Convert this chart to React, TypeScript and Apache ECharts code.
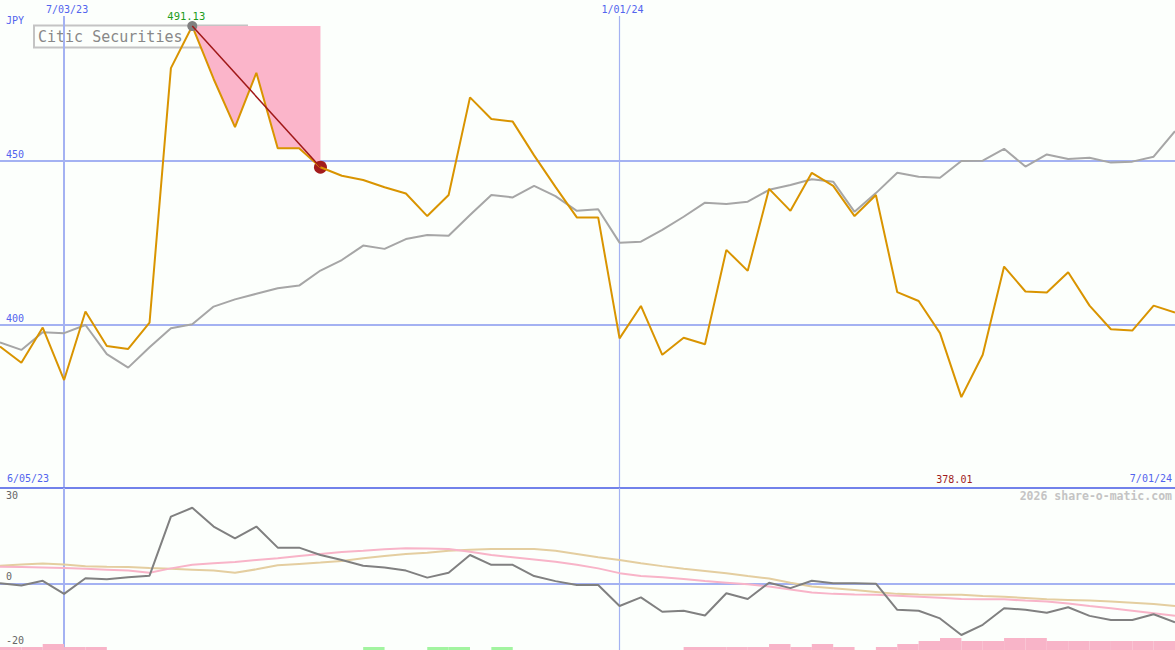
import React, { useEffect, useRef } from "react";
import * as echarts from "echarts";

// weekly points, index 0 = left edge (x axis runs 0..55 weeks)
const priceCitic = [393.4, 388.5, 399.2, 383.2, 404.1, 393.6, 392.7, 400.7, 478.3, 491.13, 475.0, 460.3, 476.9, 453.9, 453.9, 448.1, 445.5, 444.2, 442.0, 440.1, 433.2, 439.6, 469.4, 462.8, 462.0, 451.7, 442.1, 432.8, 432.8, 395.9, 405.8, 390.9, 396.1, 394.1, 422.9, 416.5, 441.5, 434.8, 446.4, 442.4, 433.2, 439.6, 410.0, 407.3, 397.5, 378.01, 390.9, 417.8, 410.2, 409.9, 416.1, 405.9, 398.7, 398.3, 405.9, 403.8];
const priceIndex = [394.7, 392.4, 397.8, 397.5, 400.0, 391.1, 387.0, 393.2, 399.0, 400.2, 405.6, 407.8, 409.5, 411.2, 412.0, 416.6, 419.8, 424.2, 423.2, 426.2, 427.4, 427.2, 433.5, 439.6, 438.9, 442.4, 439.3, 434.8, 435.3, 425.1, 425.4, 429.0, 433.0, 437.3, 436.9, 437.6, 441.2, 442.7, 444.4, 443.7, 434.5, 440.2, 446.4, 445.2, 444.9, 450.0, 450.1, 453.7, 448.3, 452.0, 450.6, 451.0, 449.5, 449.8, 451.3, 459.1];
const oscillator = [0.1, -0.6, 0.9, -3.2, 1.7, 1.4, 2.0, 2.5, 21.0, 23.8, 17.9, 14.2, 17.9, 11.3, 11.3, 9.0, 7.4, 5.6, 5.1, 4.1, 1.9, 3.4, 9.0, 5.9, 5.9, 2.4, 0.8, -0.4, -0.4, -7.0, -4.3, -8.8, -8.5, -10.0, -3.0, -4.8, 0.3, -1.4, 0.9, 0.1, 0.1, 0.0, -8.2, -8.5, -10.9, -16.1, -12.9, -7.7, -8.2, -9.1, -7.4, -10.1, -11.4, -11.4, -9.6, -12.1];
const oscPinkAvg = [5.3, 5.2, 5.1, 4.9, 4.7, 4.4, 4.1, 3.4, 4.8, 5.9, 6.4, 6.8, 7.4, 8.0, 8.7, 9.3, 9.9, 10.3, 10.8, 11.1, 11.0, 10.9, 10.0, 9.0, 8.3, 7.6, 6.9, 5.9, 4.8, 3.3, 2.4, 2.0, 1.5, 0.8, 0.3, -0.2, -0.9, -1.8, -2.8, -3.2, -3.4, -3.5, -3.8, -4.1, -4.4, -4.8, -4.9, -4.9, -5.3, -5.6, -6.2, -7.0, -7.7, -8.5, -9.3, -10.1];
const oscTanAvg = [5.6, 6.0, 6.3, 6.0, 5.5, 5.3, 5.2, 4.9, 4.7, 4.4, 4.1, 3.4, 4.5, 5.8, 6.2, 6.6, 7.1, 8.0, 8.7, 9.3, 9.7, 10.3, 10.6, 10.9, 10.9, 10.9, 10.3, 9.3, 8.3, 7.4, 6.4, 5.5, 4.7, 4.0, 3.3, 2.4, 1.6, 0.3, -0.9, -1.4, -2.0, -2.6, -3.2, -3.4, -3.5, -3.5, -3.9, -4.1, -4.5, -4.9, -5.1, -5.3, -5.6, -6.0, -6.4, -7.0];
// signed histogram levels at the bottom (negative = pink, positive = green)
const histLevels = [-1, -1, -2, -1, -1, 0, 0, 0, 0, 0, 0, 0, 0, 0, 0, 0, 0, 1, 0, 0, 1, 1, 0, 1, 0, 0, 0, 0, 0, 0, 0, 0, -1, -1, -1, -1, -2, -1, -2, -1, 0, -1, -2, -3, -4, -3, -3, -4, -4, -3, -3, -3, -3, -3, -3, 0];

const dateMarks = [
  { week: 3, label: "7/03/23", width: 2 },
  { week: 29, label: "1/01/24", width: 1.2 },
];
const startLabel = "6/05/23";
const endLabel = "7/01/24";
const priceGridValues = [400, 450];
const oscLabels = [30, 0, -20];
const peakIndex = 9;
const troughIndex = 15;
const minIndex = 45;
const title = "Citic Securities";
const currency = "JPY";
const credit = "2026 share-o-matic.com";

const X_MIN = 0;
const X_MAX = 55;
const MAIN_MIN = 350.6;
const MAIN_MAX = 494.2;
const OSC_MIN = -20.8;
const OSC_MAX = 30;

const MONO = '"DejaVu Sans Mono", monospace';
const BLUE_TEXT = "#5264ee";
const GRID_BLUE = "#a4b2f2";
const SEP_BLUE = "#7282ea";
const BG = "#fcfffc";
const CLEAR = "rgba(0,0,0,0)";

export default function App() {
  const ref = useRef<HTMLDivElement>(null);
  useEffect(() => {
    if (!ref.current) return;
    const chart = echarts.init(ref.current, undefined, { renderer: "svg" });
    const pairs = (arr: number[]) => arr.map((v, i) => [i, v]);
    const peak = priceCitic[peakIndex];
    const ddIdx = priceCitic.map((_, i) => i).filter((i) => i >= peakIndex && i <= troughIndex);

    const vLines = (withLabel: boolean) =>
      dateMarks.map((d) => ({
        xAxis: d.week,
        lineStyle: { color: GRID_BLUE, width: d.width, type: "solid" },
        label: withLabel
          ? { show: true, position: "end", formatter: d.label, color: BLUE_TEXT, fontSize: 10, fontFamily: MONO, distance: 2, offset: [3, 0] }
          : { show: false },
      }));

    const option: any = {
      animation: false,
      backgroundColor: BG,
      grid: [
        { left: 0, right: 0, top: 16, height: 471 },
        { left: 0, right: 0, top: 488, height: 162 },
      ],
      xAxis: [
        { type: "value", gridIndex: 0, min: X_MIN, max: X_MAX, show: false },
        { type: "value", gridIndex: 1, min: X_MIN, max: X_MAX, show: false },
      ],
      yAxis: [
        { type: "value", gridIndex: 0, min: MAIN_MIN, max: MAIN_MAX, show: false },
        { type: "value", gridIndex: 1, min: OSC_MIN, max: OSC_MAX, show: false },
        { type: "value", gridIndex: 1, min: 0, max: 54, show: false },
      ],
      graphic: [
        { type: "rect", z: 0, shape: { x: 34, y: 25.5, width: 213, height: 22 }, style: { fill: BG, stroke: "#c4c4c4", lineWidth: 2 } },
        { type: "text", z: 0, x: 38, y: 36.5, style: { text: title, fill: "#888888", font: `15px ${MONO}`, verticalAlign: "middle" } },
        { type: "text", z: 0, x: 6, y: 20.5, style: { text: currency, fill: BLUE_TEXT, font: `10px ${MONO}`, verticalAlign: "middle" } },
        { type: "text", z: 0, x: 7, y: 478.5, style: { text: startLabel, fill: BLUE_TEXT, font: `10px ${MONO}`, verticalAlign: "middle" } },
        { type: "text", z: 0, x: 1172, y: 478.5, style: { text: endLabel, fill: BLUE_TEXT, font: `10px ${MONO}`, verticalAlign: "middle", align: "right" } },
        { type: "text", z: 0, x: 1172, y: 496, style: { text: credit, fill: "#c4c4c4", font: `bold 11.5px ${MONO}`, verticalAlign: "middle", align: "right" } },
      ],
      series: [
        {
          name: "gridMain", type: "line", xAxisIndex: 0, yAxisIndex: 0, z: 1, silent: true,
          data: pairs(priceCitic), symbol: "none", lineStyle: { opacity: 0 },
          markLine: {
            silent: true, z: 1, symbol: ["none", "none"], animation: false,
            data: [
              ...priceGridValues.map((v) => ({
                yAxis: v,
                lineStyle: { color: GRID_BLUE, width: 2, type: "solid" },
                label: { show: true, position: "insideStartTop", formatter: String(v), color: BLUE_TEXT, fontSize: 10, fontFamily: MONO, distance: [6, 1] },
              })),
              ...vLines(true),
            ],
          },
        },
        {
          name: "gridOsc", type: "line", xAxisIndex: 1, yAxisIndex: 1, z: 1, silent: true,
          data: pairs(oscillator), symbol: "none", lineStyle: { opacity: 0 },
          markLine: {
            silent: true, z: 1, symbol: ["none", "none"], animation: false,
            data: [
              ...oscLabels.map((v) => ({
                yAxis: v,
                lineStyle: {
                  color: v === OSC_MAX ? SEP_BLUE : v === 0 ? GRID_BLUE : CLEAR,
                  width: 2, type: "solid",
                },
                label: {
                  show: true, position: v === OSC_MAX ? "insideStartBottom" : "insideStartTop",
                  formatter: String(v), color: "#666666", fontSize: 10, fontFamily: MONO, distance: [6, 2],
                },
              })),
              ...vLines(false),
            ],
          },
        },
        {
          name: "hist", type: "bar", xAxisIndex: 1, yAxisIndex: 2, z: 1, silent: true, barWidth: 21.4,
          data: histLevels
            .map((l, i) => ({ l, i }))
            .filter((d) => d.l !== 0)
            .map((d) => ({ value: [d.i + 0.5, Math.abs(d.l)], itemStyle: { color: d.l < 0 ? "#f8b4c8" : "#a2f4a0" } })),
        },
        { name: "tanAvg", type: "line", xAxisIndex: 1, yAxisIndex: 1, z: 2, symbol: "none", data: pairs(oscTanAvg), lineStyle: { color: "#e4cea0", width: 2 } },
        { name: "pinkAvg", type: "line", xAxisIndex: 1, yAxisIndex: 1, z: 2, symbol: "none", data: pairs(oscPinkAvg), lineStyle: { color: "#f8b4c8", width: 2 } },
        { name: "osc", type: "line", xAxisIndex: 1, yAxisIndex: 1, z: 3, symbol: "none", data: pairs(oscillator), lineStyle: { color: "#808080", width: 2 } },
        {
          name: "ddArea", type: "custom", xAxisIndex: 0, yAxisIndex: 0, z: 2, silent: true,
          data: [[peakIndex, peak]],
          renderItem: (params: any, api: any) => {
            const pts = ddIdx.map((i) => api.coord([i, priceCitic[i]]));
            pts.push(api.coord([troughIndex, peak]));
            return { type: "polygon", shape: { points: pts }, style: { fill: "#fbb5ca", stroke: "none" } };
          },
        },
        { name: "index", type: "line", xAxisIndex: 0, yAxisIndex: 0, z: 3, symbol: "none", data: pairs(priceIndex), lineStyle: { color: "#a6a6a6", width: 2 } },
        {
          name: "troughDot", type: "scatter", xAxisIndex: 0, yAxisIndex: 0, z: 3, symbol: "circle", symbolSize: 13,
          data: [[troughIndex, priceCitic[troughIndex]]], itemStyle: { color: "#a31c1c", opacity: 1 },
        },
        {
          name: "citic", type: "line", xAxisIndex: 0, yAxisIndex: 0, z: 4, symbol: "none", data: pairs(priceCitic),
          lineStyle: { color: "#d99400", width: 2 },
          markPoint: {
            silent: true, animation: false,
            data: [
              {
                coord: [peakIndex, peak], symbol: "circle", symbolSize: 10, itemStyle: { color: "#808080" },
                label: { show: true, position: "top", distance: 0, offset: [-6, 0], formatter: String(peak), color: "#1c9c1c", fontSize: 10.5, fontFamily: MONO },
              },
              {
                coord: [minIndex, MAIN_MIN], symbol: "circle", symbolSize: 0, itemStyle: { color: CLEAR },
                label: { show: true, position: "top", distance: 3, offset: [-7, 0], formatter: priceCitic[minIndex].toFixed(2), color: "#a01c1c", fontSize: 10, fontFamily: MONO },
              },
            ],
          },
        },
        {
          name: "drawdown", type: "line", xAxisIndex: 0, yAxisIndex: 0, z: 5, symbol: "none",
          data: [[peakIndex, peak], [troughIndex, priceCitic[troughIndex]]], lineStyle: { color: "#a01818", width: 1.5 },
        },
      ],
    };
    chart.setOption(option);
    return () => chart.dispose();
  }, []);
  return <div ref={ref} style={{ position: "absolute", left: 0, top: 0, width: 1175, height: 650 }} />;
}
